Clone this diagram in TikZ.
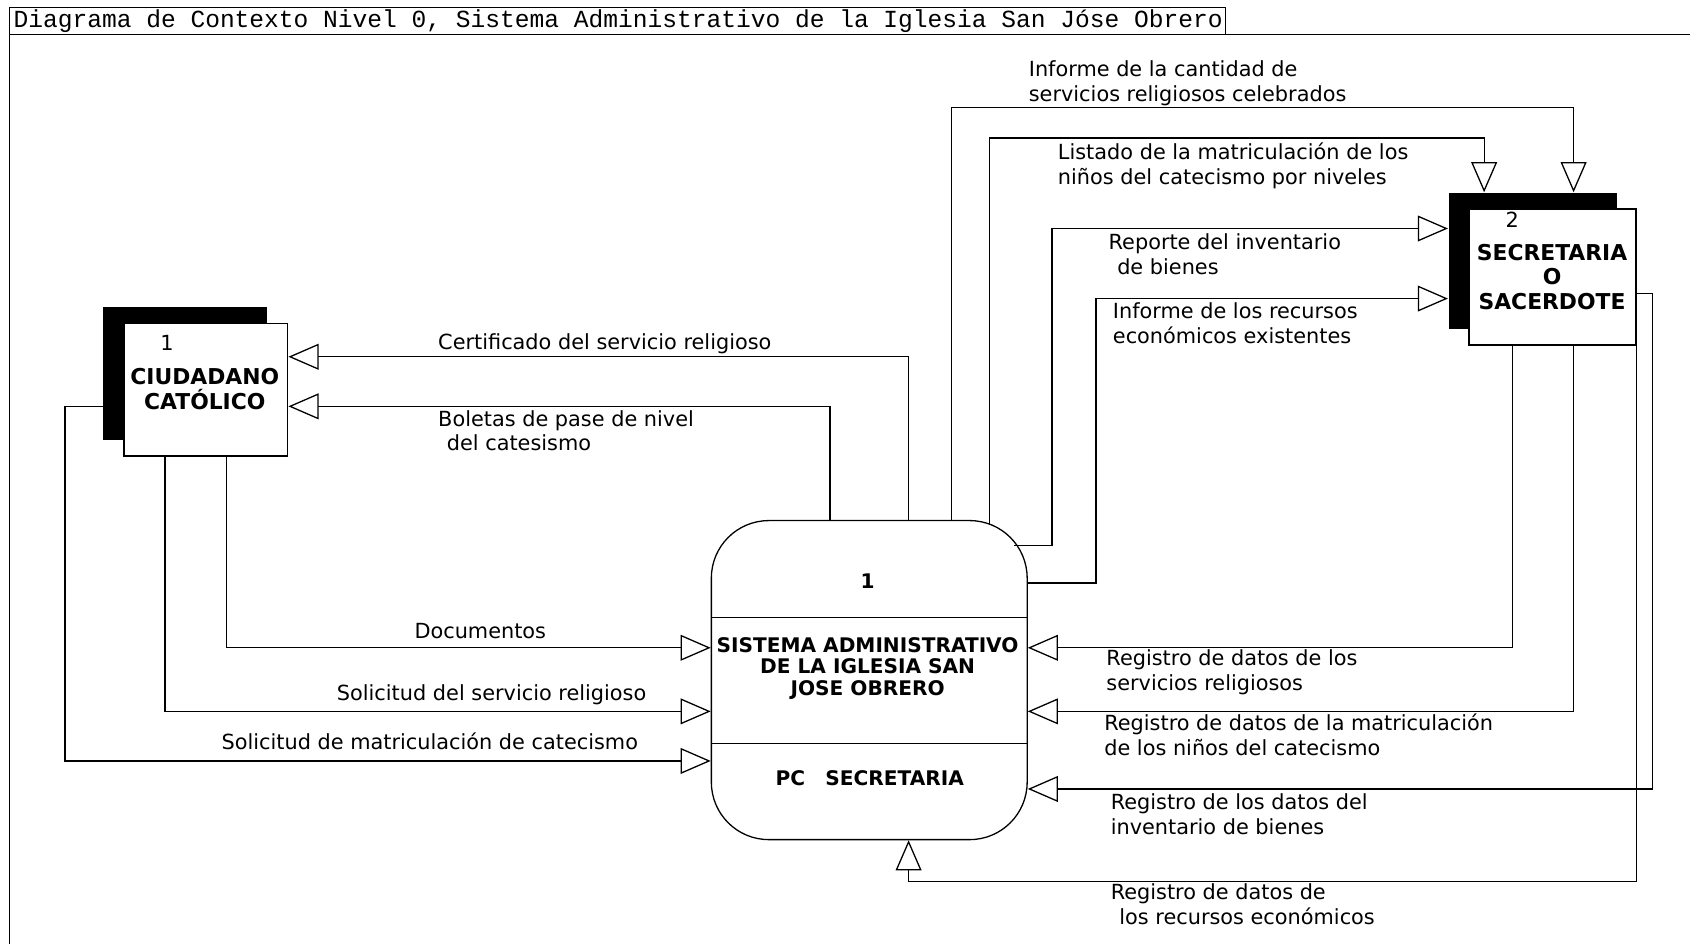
\documentclass[tikz,border=0pt]{standalone}
\usepackage{fontspec}
\setmainfont{DejaVu Sans}
\newfontfamily\titlefont{Liberation Mono}
\usetikzlibrary{arrows.meta,fit}

\tikzset{every picture/.style={line width=0.9pt}}
\tikzset{
  flujo/.style={-{Triangle[open,length=21pt,width=18pt]}},
  etiq/.style={anchor=north west,inner sep=0.75pt,align=left,font=\fontsize{14.5}{17.25}\selectfont},
  caja/.style={draw,fill=white,inner sep=0pt},
  sombra/.style={fill=black,inner sep=0pt},
  titcaja/.style={inner sep=0.75pt,align=center,font=\fontsize{15.2}{17.25}\bfseries\selectfont},
  titproc/.style={inner sep=0.75pt,align=center,font=\fontsize{14}{15}\bfseries\selectfont},
}

\begin{document}
\begin{tikzpicture}[x=0.75pt,y=0.75pt,yscale=-1,xscale=1]
\useasboundingbox (0,0) rectangle (1568,876);

%Frame and title
\draw (9,876) -- (9,32) -- (1568,32) ;
\draw (9,7) rectangle (1137,32) ;
\node [anchor=west][inner sep=0.75pt] [font=\titlefont\fontsize{17.1}{20}\selectfont] (titulo) at (11,20) {Diagrama de Contexto Nivel 0, Sistema Administrativo de la Iglesia San Jóse Obrero};

%Entity: ciudadano
\node [sombra, fit={(96,285) (248,408)}] (ciudsh) {};
\node [caja, fit={(115,300) (267,423)}] (ciud) {};
\node [inner sep=0.75pt] [font=\fontsize{14.5}{17}\selectfont] (ciudnum) at (155,318) {1};
\node [titcaja] (ciudtxt) at (190,361) {CIUDADANO\\CATÓLICO};

%Entity: secretaria
\node [sombra, fit={(1344,179) (1500,305)}] (secsh) {};
\node [caja, fit={(1363,194) (1518,320)}] (sec) {};
\node [inner sep=0.75pt] [font=\fontsize{14.5}{17}\selectfont] (secnum) at (1403,204) {2};
\node [titcaja] (sectxt) at (1440,257) {SECRETARIA\\O\\SACERDOTE};

%Process
\node [draw, rounded corners=40pt, inner sep=0pt, fit={(660,483) (953,779)}] (proc) {};
\draw (proc.west |- 0,573) -- (proc.east |- 0,573) ;
\draw (proc.west |- 0,690) -- (proc.east |- 0,690) ;
\node [titproc] (procnum) at (805,539) {1};
\node [titproc] (proctxt) at (805,620) {SISTEMA ADMINISTRATIVO\\DE LA IGLESIA SAN\\JOSE OBRERO};
\node [titproc] (procpc) at (807,722) {PC\quad SECRETARIA};

%points on the rounded corner
\coordinate (procc1) at (918,487) ;
\coordinate (procc2) at (941,506) ;

%Flows to ciudadano
\draw [flujo] (proc.north -| 843,0) |- (ciud.east |- 0,331) ;
\draw [flujo] (proc.north -| 770,0) |- (ciud.east |- 0,377) ;
%Flows from ciudadano
\draw [flujo] (ciud.south -| 210,0) |- (proc.west |- 0,601) ;
\draw [flujo] (ciud.south -| 153,0) |- (proc.west |- 0,660) ;
\draw [flujo] (ciudsh.west |- 0,377) -- ++(-35,0) |- (proc.west |- 0,706) ;

%Flows to secretaria
\draw [flujo] (proc.north -| 883,0) |- (1460,100) -- (secsh.north -| 1460,0) ;
\draw [flujo] (procc1) |- (1377,128) -- (secsh.north -| 1377,0) ;
\draw [flujo] (procc2) -- (976,506) |- (secsh.west |- 0,212) ;
\draw [flujo] (proc.east |- 0,541) -- (1017,541) |- (secsh.west |- 0,277) ;
%Flows from secretaria
\draw [flujo] (sec.south -| 1403,0) |- (proc.east |- 0,601) ;
\draw [flujo] (sec.south -| 1460,0) |- (proc.east |- 0,660) ;
\draw [flujo] (sec.east |- 0,272) -- (1533,272) |- (proc.east |- 0,732) ;
\draw [flujo] (sec.south east) -- (sec.south east |- 0,818) -| (proc.south -| 843,0) ;

% Text Node
\node [etiq] (l1) at (953,55) {Informe de la cantidad de\\servicios religiosos celebrados};
% Text Node
\node [etiq] (l2) at (980,131) {Listado de la matriculación de los\\niños del catecismo por niveles};
% Text Node
\node [etiq] (l3) at (1027,215) {Reporte del inventario\\\hspace*{6pt}de bienes};
% Text Node
\node [etiq] (l4) at (1031,279) {Informe de los recursos\\económicos existentes};
% Text Node
\node [etiq] (l5) at (405,308) {Certificado del servicio religioso};
% Text Node
\node [etiq] (l6) at (405,379) {Boletas de pase de nivel\\\hspace*{6pt}del catesismo};
% Text Node
\node [etiq] (l7) at (383,577) {Documentos};
% Text Node
\node [etiq] (l8) at (311,634) {Solicitud del servicio religioso};
% Text Node
\node [etiq] (l9) at (204,678) {Solicitud de matriculación de catecismo};
% Text Node
\node [etiq] (l10) at (1025,601) {Registro de datos de los\\servicios religiosos};
% Text Node
\node [etiq] (l11) at (1023,661) {Registro de datos de la matriculación\\de los niños del catecismo};
% Text Node
\node [etiq] (l12) at (1029,735) {Registro de los datos del\\inventario de bienes};
% Text Node
\node [etiq] (l13) at (1029,818) {Registro de datos de\\\hspace*{6pt}los recursos económicos};

\end{tikzpicture}
\end{document}
